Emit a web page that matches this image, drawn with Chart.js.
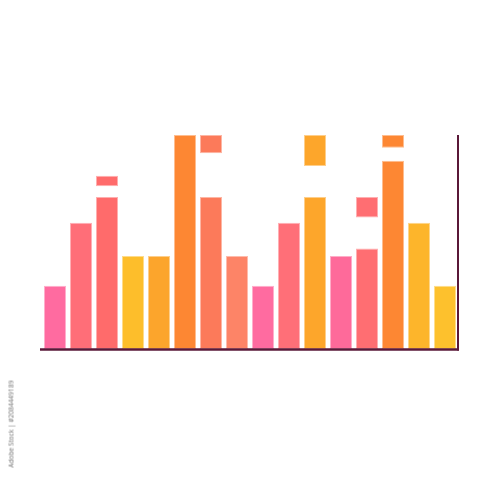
<!DOCTYPE html>
<html>
<head>
<meta charset="utf-8">
<script src="https://cdn.jsdelivr.net/npm/chart.js@4"></script>
<style>
  html, body { margin: 0; padding: 0; background: #ffffff; }
  #wrap { position: relative; width: 500px; height: 500px; }
  #c { display: block; }
  #credit {
    position: absolute; left: 11px; top: 424px;
    transform: translate(-50%, -50%) rotate(-90deg);
    font-family: "Open Sans", "DejaVu Sans", sans-serif; font-size: 6.6px;
    color: #6f6f6f; white-space: nowrap;
  }
</style>
</head>
<body>
<div id="wrap">
  <canvas id="c" width="500" height="500"></canvas>
  <div id="credit">Adobe Stock | #2084449189</div>
</div>
<script>
const categories = ["1","2","3","4","5","6","7","8","9","10","11","12","13","14","15","16"];
const mainValues = [29.5, 59, 71, 43.5, 43.5, 100, 71, 43.5, 29.5, 59, 71, 43.5, 47, 88, 59, 29.5];
const floatLow   = [null, null, 76, null, null, null, 91.5, null, null, null, 85.5, null, 61.5, 94, null, null];
const floatHigh  = [null, null, 81, null, null, null, 100,  null, null, null, 100,  null, 71,   100, null, null];
const barColors  = ["#FF6BA0","#FF6E78","#FF6B6B","#FDBE2B","#FCA52C","#FD8733","#FC7A5A","#FD8467",
                    "#FF6BA0","#FF6F78","#FDA62B","#FE6A9A","#FF6E72","#FD8733","#FDB52B","#FDC12D"];

function lighten(hex, t) {
  const n = parseInt(hex.slice(1), 16);
  const r = (n >> 16) & 255, g = (n >> 8) & 255, b = n & 255;
  const m = v => Math.round(v + (255 - v) * t);
  return `rgb(${m(r)},${m(g)},${m(b)})`;
}
const borderColors = barColors.map(c => lighten(c, 0.45));

const floatData = floatLow.map((lo, i) => (lo === null ? null : [lo, floatHigh[i]]));

const axisLines = {
  id: 'axisLines',
  afterDatasetsDraw(chart) {
    const { ctx } = chart;
    const x = chart.scales.x, y = chart.scales.y;
    const base = y.getPixelForValue(0);
    const top = y.getPixelForValue(100);
    ctx.save();
    ctx.strokeStyle = '#5a1838';
    ctx.lineCap = 'butt';
    ctx.lineWidth = 2.5;
    ctx.beginPath();
    ctx.moveTo(x.left - 2, base + 0.5);
    ctx.lineTo(x.right + 1, base + 0.5);
    ctx.stroke();
    ctx.lineWidth = 2;
    ctx.beginPath();
    ctx.moveTo(x.right, top);
    ctx.lineTo(x.right, base + 1.5);
    ctx.stroke();
    ctx.restore();
  }
};

new Chart(document.getElementById('c'), {
  type: 'bar',
  data: {
    labels: categories,
    datasets: [
      {
        data: mainValues,
        backgroundColor: barColors,
        borderColor: borderColors,
        borderWidth: 1,
        borderSkipped: false,
        grouped: false,
        barPercentage: 0.846,
        categoryPercentage: 1.0
      },
      {
        data: floatData,
        backgroundColor: barColors,
        borderColor: borderColors,
        borderWidth: 1,
        borderSkipped: false,
        grouped: false,
        barPercentage: 0.846,
        categoryPercentage: 1.0
      }
    ]
  },
  options: {
    responsive: false,
    animation: false,
    layout: { padding: { left: 42, right: 42, top: 135, bottom: 151 } },
    plugins: { legend: { display: false }, tooltip: { enabled: false } },
    scales: {
      x: { display: false, offset: true },
      y: { display: false, min: 0, max: 100 }
    }
  },
  plugins: [axisLines]
});
</script>
</body>
</html>
